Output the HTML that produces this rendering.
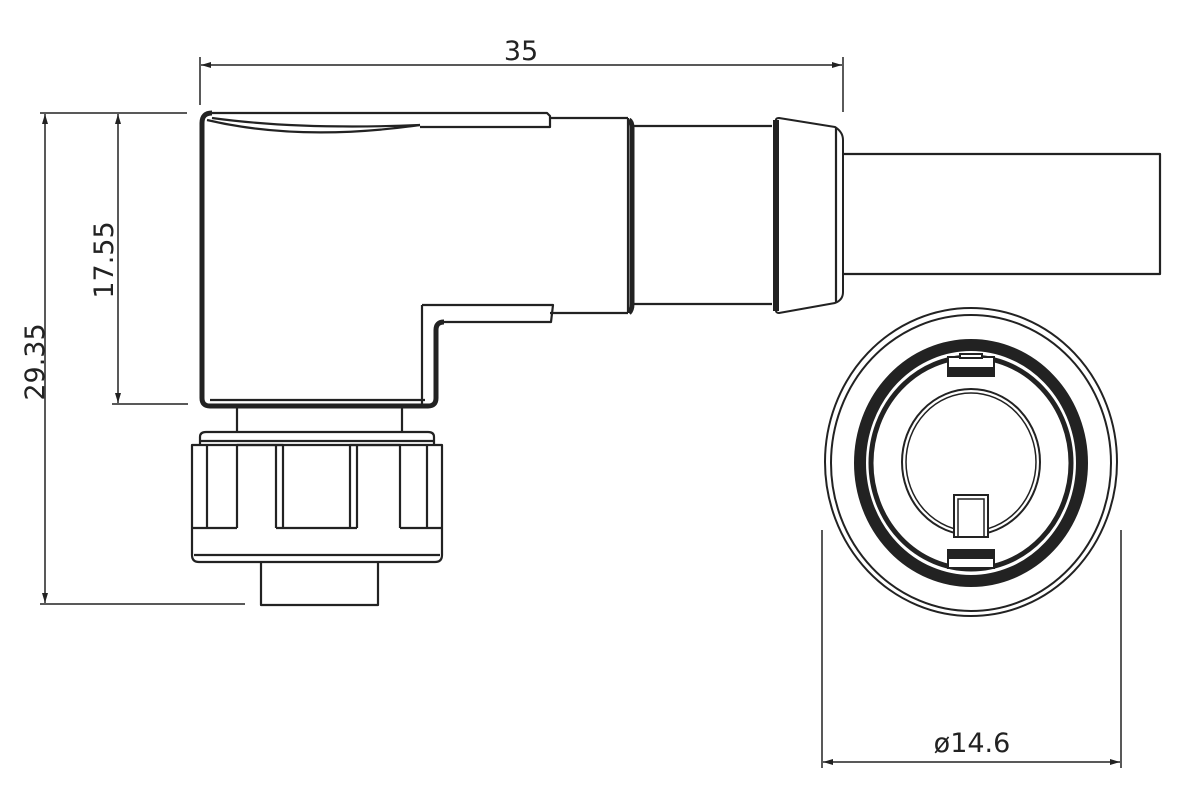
<!DOCTYPE html>
<html><head><meta charset="utf-8"><style>
html,body{margin:0;padding:0;background:#fff;}
svg{display:block;}
text{font-family:"DejaVu Sans","Liberation Sans",sans-serif;fill:#222;}
</style></head><body>
<svg width="1200" height="800" viewBox="0 0 1200 800" xmlns="http://www.w3.org/2000/svg">
<defs>
<marker id="a" viewBox="0 0 10 10" refX="10" refY="5" markerWidth="10" markerHeight="10" markerUnits="userSpaceOnUse" orient="auto-start-reverse"><path d="M0,2 L10,5 L0,8 z" fill="#222"/></marker>
</defs>
<g stroke="#222" fill="none" stroke-width="1.5">
<line x1="200" y1="57" x2="200" y2="105"/>
<line x1="843" y1="57" x2="843" y2="112"/>
<line x1="201" y1="65" x2="842" y2="65" marker-start="url(#a)" marker-end="url(#a)"/>
<line x1="40" y1="113" x2="187" y2="113"/>
<line x1="40" y1="604" x2="245" y2="604"/>
<line x1="45" y1="114" x2="45" y2="603" marker-start="url(#a)" marker-end="url(#a)"/>
<line x1="112" y1="404" x2="188" y2="404"/>
<line x1="118" y1="114" x2="118" y2="403" marker-start="url(#a)" marker-end="url(#a)"/>
<line x1="822" y1="530" x2="822" y2="768"/>
<line x1="1121" y1="530" x2="1121" y2="768"/>
<line x1="823" y1="762" x2="1120" y2="762" marker-start="url(#a)" marker-end="url(#a)"/>
</g>
<text x="521" y="60" font-size="27" text-anchor="middle">35</text>
<text x="0" y="0" font-size="27" text-anchor="middle" transform="translate(44,362) rotate(-90)">29.35</text>
<text x="0" y="0" font-size="27" text-anchor="middle" transform="translate(113,260) rotate(-90)">17.55</text>
<text x="972" y="752" font-size="27" text-anchor="middle">ø14.6</text>

<g stroke="#222" fill="none" stroke-width="2.2" stroke-linejoin="round">
<path d="M209,113 L547,113 L550,116 L550,127 L420,127" />
<path d="M207,120 Q300,142 420,125"/>
<path d="M212,118 Q300,130 420,125"/>
<path d="M550,118 L628,118 M550,313 L628,313"/>
<path d="M422,305 L553,305 L551,322 L440,322"/>
<path d="M422,305 L422,405"/>
<path d="M210,400 L425,400"/>
<path d="M628,118 L628,313"/>
<path d="M212,113 Q202,113 202,123 L202,398 Q202,406 210,406 L428,406 Q436,406 436,398 L436,330 Q436,322 444,322" stroke-width="5"/>
<path d="M629,120 Q632,122 632,128 L632,304 Q632,310 629,313" stroke-width="5"/>
<path d="M632,126 L772,126 M632,304 L772,304"/>
<path d="M776,122 Q775,118 779,118 L835,127 Q843,132 843,140 L843,292 Q843,300 835,303 L779,313 Q775,313 776,308 Z" stroke-width="2"/>
<path d="M776,120 L776,311" stroke-width="6"/>
<path d="M836,128 L836,302"/>
<path d="M843,154 L1160,154 L1160,274 L843,274"/>
<path d="M237,407 L237,432 M402,407 L402,432"/>
<!-- nut -->
<path d="M200,445 L200,437 Q200,432 206,432 L428,432 Q434,432 434,437 L434,445"/>
<path d="M200,441 L434,441"/>
<path d="M192,445 L192,555 Q192,562 199,562 L435,562 Q442,562 442,555 L442,445 Z"/>
<path d="M192,528 L237,528 M276,528 L357,528 M400,528 L442,528"/>
<path d="M194,555 L440,555"/>
<path d="M207,445 L207,528 M237,528 L237,445 L283,445 L283,528 M276,445 L276,528 M350,528 L350,445 L400,445 L400,528 M357,445 L357,528 M427,445 L427,528"/>
<path d="M261,562 L261,605 L378,605 L378,562"/>
</g>

<g stroke="#222" fill="none">
<ellipse cx="971" cy="462" rx="146" ry="154" stroke-width="2"/>
<ellipse cx="971" cy="463" rx="140" ry="148" stroke-width="2"/>
<ellipse cx="971" cy="463" rx="111" ry="118" stroke-width="12"/>
<ellipse cx="971" cy="463" rx="100" ry="106" stroke-width="5"/>
<ellipse cx="971" cy="462" rx="69" ry="73" stroke-width="2"/>
<ellipse cx="971" cy="462" rx="65" ry="69" stroke-width="1.5"/>
</g>
<g stroke="#222" stroke-width="2">
<rect x="948" y="357" width="46" height="18" fill="#fff"/>
<rect x="948" y="368" width="46" height="8" fill="#222"/>
<rect x="960" y="354" width="22" height="4" fill="#fff"/>
<rect x="948" y="550" width="46" height="18" fill="#fff"/>
<rect x="948" y="550" width="46" height="8" fill="#222"/>
<rect x="954" y="495" width="34" height="42" fill="#fff"/>
<rect x="958" y="499" width="26" height="38" fill="none" stroke-width="1.5"/>
</g>
</svg>
</body></html>
